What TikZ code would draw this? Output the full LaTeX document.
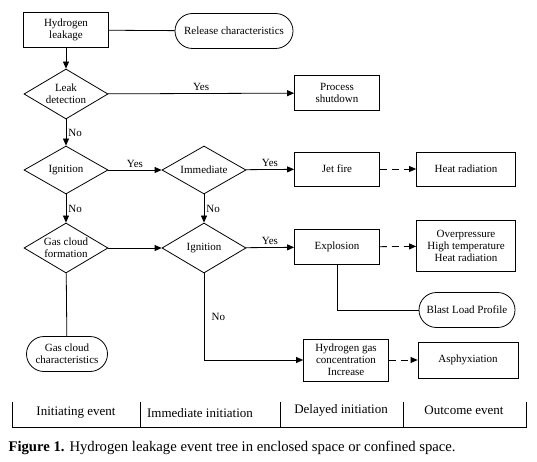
\documentclass[tikz,border=0pt]{standalone}
\usepackage{fontspec}
\setmainfont{Liberation Serif}
\usetikzlibrary{arrows.meta,positioning,shapes.geometric,shapes.misc}

\begin{document}
\begin{tikzpicture}[
  x=1pt,y=-1pt,
  every node/.style={font=\fontsize{11}{12}\selectfont,align=center},
  box/.style={draw,line width=0.8pt,inner sep=2pt,minimum width=85pt,minimum height=35pt},
  term/.style={draw,line width=0.8pt,rounded rectangle,inner sep=2pt,minimum height=35pt},
  dec/.style={draw,line width=0.8pt,diamond,aspect=1.7,inner sep=-4pt,minimum width=84pt,minimum height=50pt},
  arr/.style={-{Triangle[length=7pt,width=6pt]},line width=0.8pt},
  darr/.style={arr,dash pattern=on 7pt off 5pt},
  link/.style={line width=0.8pt},
  lbl/.style={inner sep=2pt},
  stage/.style={font=\fontsize{13}{14}\selectfont}
]
\useasboundingbox (0,0) rectangle (537,462);
% first column
\node[box] (leakage) at (66,30) {Hydrogen\\leakage};
\node[term,minimum width=122pt] (release) at (234,31) {Release characteristics};
\node[dec] (detect) at (66,94) {Leak\\detection};
\node[box] (shutdown) at (337,93) {Process\\shutdown};
\node[dec,minimum height=48pt] (ign1) at (66,170) {Ignition};
\node[dec,minimum height=48pt] (immed) at (204,170) {Immediate};
\node[box,minimum height=34pt] (jet) at (337,169) {Jet fire};
\node[box,minimum width=99pt,minimum height=34pt] (heat) at (466,169) {Heat radiation};
\node[dec] (cloud) at (66,248) {Gas cloud\\formation};
\node[dec] (ign2) at (204,248) {Ignition};
\node[box] (explosion) at (337,247) {Explosion};
\node[box,minimum width=99pt,minimum height=51pt] (overp) at (466,246) {Overpressure\\High temperature\\Heat radiation};
\node[term,minimum width=100pt] (blast) at (467,310) {Blast Load Profile};
\node[term,minimum width=85pt] (cloudchar) at (67,354) {Gas cloud\\characteristics};
\node[box,minimum height=42pt] (conc) at (346,360) {Hydrogen gas\\concentration\\Increase};
\node[box,minimum width=100pt,minimum height=36pt] (asphyx) at (468,360) {Asphyxiation};

% connectors
\draw[link] (leakage) -- (release);
\draw[arr] (leakage) -- (detect);
\draw[arr] (detect) -- node[lbl,above]{Yes} (shutdown);
\draw[arr] (detect) -- node[lbl,right]{No} (ign1);
\draw[arr] (ign1) -- node[lbl,above]{Yes} (immed);
\draw[arr] (immed) -- node[lbl,above]{Yes} (jet);
\draw[darr] (jet) -- (heat);
\draw[arr] (ign1) -- node[lbl,right]{No} (cloud);
\draw[arr] (immed) -- node[lbl,right]{No} (ign2);
\draw[arr] (cloud) -- (ign2);
\draw[arr] (ign2) -- node[lbl,above]{Yes} (explosion);
\draw[darr] (explosion) -- (overp);
\draw[link] (explosion.south) |- (blast.west);
\draw[link] (cloud) -- (cloudchar);
\draw[arr] (ign2.south) |- node[pos=0.25,right=4pt]{No} (conc.west);
\draw[darr] (conc) -- (asphyx);

% stage bar
\draw[link] (12,402) |- (526,427) -- (526,402);
\foreach \x in {140,280,403} \draw[link] (\x,402) -- (\x,427);
\node[stage] (initiating) at (76,413) {Initiating event};
\node[stage] (immediate) at (200,413) {Immediate initiation};
\node[stage] (delayed) at (341,410) {Delayed initiation};
\node[stage] (outcome) at (464,410) {Outcome event};

% caption
\node[anchor=west,font=\fontsize{14.7}{16}\selectfont] (caption) at (5,448) {\textbf{Figure 1.} Hydrogen leakage event tree in enclosed space or confined space.};
\end{tikzpicture}
\end{document}
